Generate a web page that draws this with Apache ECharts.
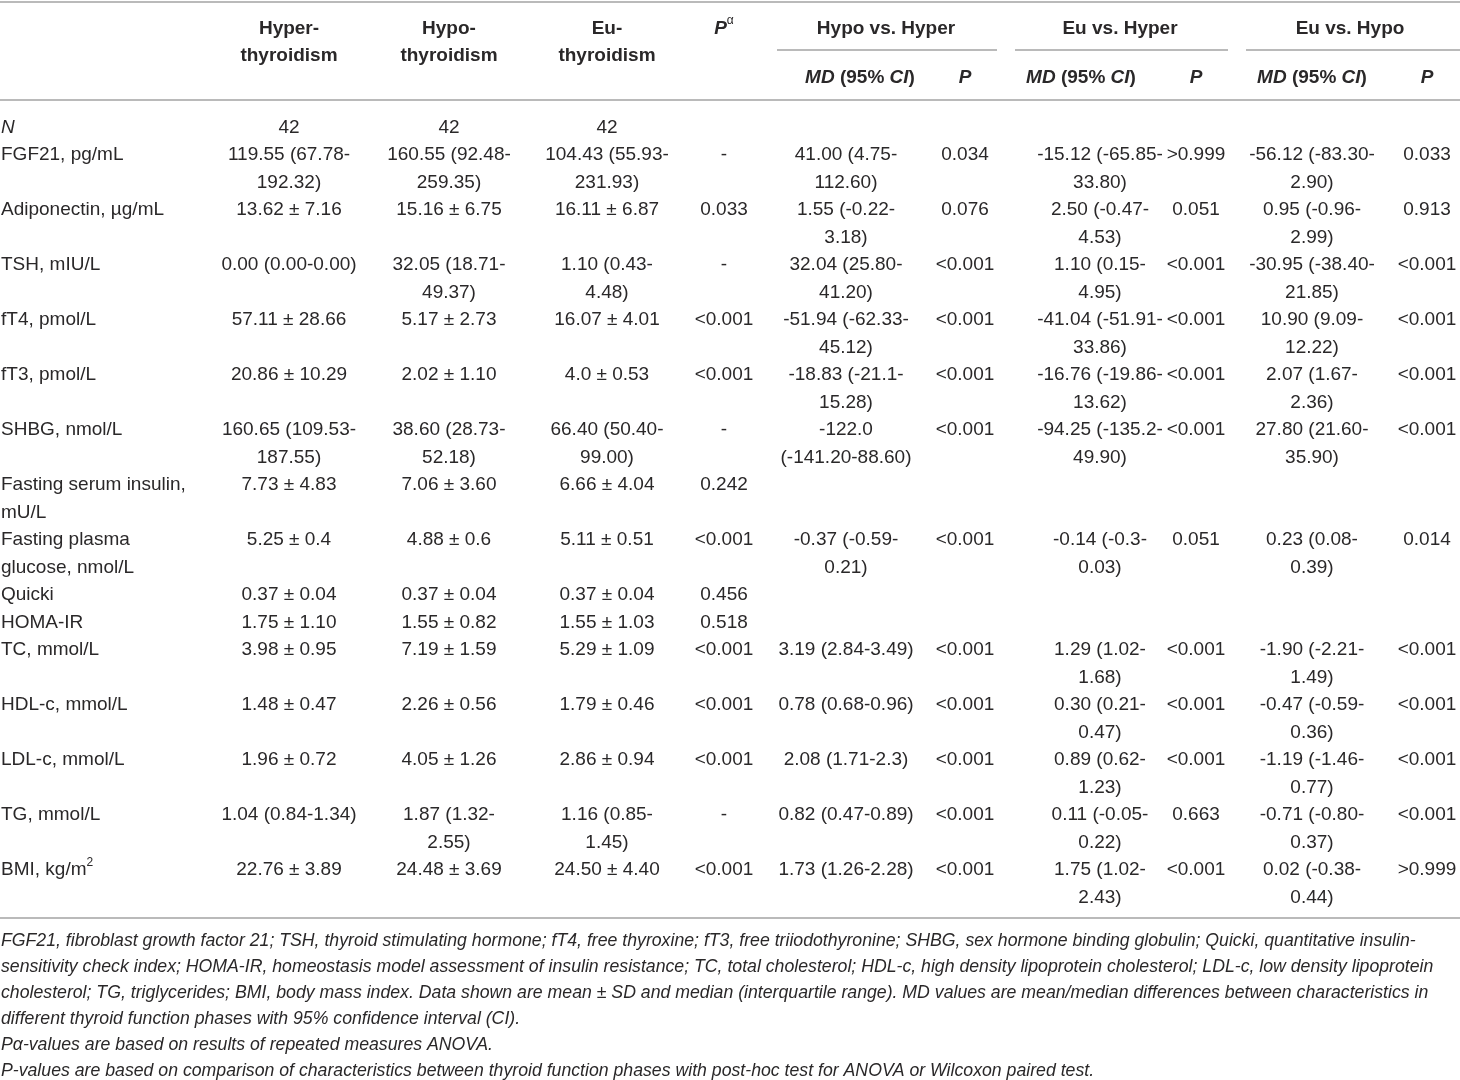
<!DOCTYPE html>
<html>
<head>
<meta charset="utf-8">
<script src="https://cdn.jsdelivr.net/npm/echarts@6/dist/echarts.min.js"></script>
<style>
html, body { margin: 0; padding: 0; background: #fff; }
#table { width: 1460px; height: 1080px; }
</style>
</head>
<body>
<div id="table"></div>
<script>
// table content
var rowLabels = [
    '{i|N}', 'FGF21, pg/mL', 'Adiponectin, \u00b5g/mL', 'TSH, mIU/L', 'fT4, pmol/L', 'fT3, pmol/L',
    'SHBG, nmol/L', 'Fasting serum insulin,\nmU/L', 'Fasting plasma\nglucose, nmol/L', 'Quicki',
    'HOMA-IR', 'TC, mmol/L', 'HDL-c, mmol/L', 'LDL-c, mmol/L', 'TG, mmol/L', 'BMI, kg/m{sup|2}'
];
var hyper = [
    '42', '119.55 (67.78-\n192.32)', '13.62 \u00b1 7.16', '0.00 (0.00-0.00)', '57.11 \u00b1 28.66', '20.86 \u00b1 10.29',
    '160.65 (109.53-\n187.55)', '7.73 \u00b1 4.83', '5.25 \u00b1 0.4', '0.37 \u00b1 0.04',
    '1.75 \u00b1 1.10', '3.98 \u00b1 0.95', '1.48 \u00b1 0.47', '1.96 \u00b1 0.72', '1.04 (0.84-1.34)', '22.76 \u00b1 3.89'
];
var hypo = [
    '42', '160.55 (92.48-\n259.35)', '15.16 \u00b1 6.75', '32.05 (18.71-\n49.37)', '5.17 \u00b1 2.73', '2.02 \u00b1 1.10',
    '38.60 (28.73-\n52.18)', '7.06 \u00b1 3.60', '4.88 \u00b1 0.6', '0.37 \u00b1 0.04',
    '1.55 \u00b1 0.82', '7.19 \u00b1 1.59', '2.26 \u00b1 0.56', '4.05 \u00b1 1.26', '1.87 (1.32-\n2.55)', '24.48 \u00b1 3.69'
];
var eu = [
    '42', '104.43 (55.93-\n231.93)', '16.11 \u00b1 6.87', '1.10 (0.43-\n4.48)', '16.07 \u00b1 4.01', '4.0 \u00b1 0.53',
    '66.40 (50.40-\n99.00)', '6.66 \u00b1 4.04', '5.11 \u00b1 0.51', '0.37 \u00b1 0.04',
    '1.55 \u00b1 1.03', '5.29 \u00b1 1.09', '1.79 \u00b1 0.46', '2.86 \u00b1 0.94', '1.16 (0.85-\n1.45)', '24.50 \u00b1 4.40'
];
var pAlpha = [
    '', '-', '0.033', '-', '<0.001', '<0.001', '-', '0.242', '<0.001', '0.456',
    '0.518', '<0.001', '<0.001', '<0.001', '-', '<0.001'
];
var mdHypoHyper = [
    '', '41.00 (4.75-\n112.60)', '1.55 (-0.22-\n3.18)', '32.04 (25.80-\n41.20)', '-51.94 (-62.33-\n45.12)',
    '-18.83 (-21.1-\n15.28)', '-122.0\n(-141.20-88.60)', '', '-0.37 (-0.59-\n0.21)', '',
    '', '3.19 (2.84-3.49)', '0.78 (0.68-0.96)', '2.08 (1.71-2.3)', '0.82 (0.47-0.89)', '1.73 (1.26-2.28)'
];
var pHypoHyper = [
    '', '0.034', '0.076', '<0.001', '<0.001', '<0.001', '<0.001', '', '<0.001', '',
    '', '<0.001', '<0.001', '<0.001', '<0.001', '<0.001'
];
var mdEuHyper = [
    '', '-15.12 (-65.85-\n33.80)', '2.50 (-0.47-\n4.53)', '1.10 (0.15-\n4.95)', '-41.04 (-51.91-\n33.86)',
    '-16.76 (-19.86-\n13.62)', '-94.25 (-135.2-\n49.90)', '', '-0.14 (-0.3-\n0.03)', '',
    '', '1.29 (1.02-\n1.68)', '0.30 (0.21-\n0.47)', '0.89 (0.62-\n1.23)', '0.11 (-0.05-\n0.22)', '1.75 (1.02-\n2.43)'
];
var pEuHyper = [
    '', '>0.999', '0.051', '<0.001', '<0.001', '<0.001', '<0.001', '', '0.051', '',
    '', '<0.001', '<0.001', '<0.001', '0.663', '<0.001'
];
var mdEuHypo = [
    '', '-56.12 (-83.30-\n2.90)', '0.95 (-0.96-\n2.99)', '-30.95 (-38.40-\n21.85)', '10.90 (9.09-\n12.22)',
    '2.07 (1.67-\n2.36)', '27.80 (21.60-\n35.90)', '', '0.23 (0.08-\n0.39)', '',
    '', '-1.90 (-2.21-\n1.49)', '-0.47 (-0.59-\n0.36)', '-1.19 (-1.46-\n0.77)', '-0.71 (-0.80-\n0.37)', '0.02 (-0.38-\n0.44)'
];
var pEuHypo = [
    '', '0.033', '0.913', '<0.001', '<0.001', '<0.001', '<0.001', '', '0.014', '',
    '', '<0.001', '<0.001', '<0.001', '<0.001', '>0.999'
];
var groupHeaders = ['Hyper-\nthyroidism', 'Hypo-\nthyroidism', 'Eu-\nthyroidism', '{pi|P}{sup|\u03b1}'];
var compareHeaders = ['Hypo vs. Hyper', 'Eu vs. Hyper', 'Eu vs. Hypo'];
var subHeaders = ['{bi|MD} (95% {bi|CI})', '{bi|P}'];
var footnotes = [
    'FGF21, fibroblast growth factor 21; TSH, thyroid stimulating hormone; fT4, free thyroxine; fT3, free triiodothyronine; SHBG, sex hormone binding globulin; Quicki, quantitative insulin-',
    'sensitivity check index; HOMA-IR, homeostasis model assessment of insulin resistance; TC, total cholesterol; HDL-c, high density lipoprotein cholesterol; LDL-c, low density lipoprotein',
    'cholesterol; TG, triglycerides; BMI, body mass index. Data shown are mean \u00b1 SD and median (interquartile range). MD values are mean/median differences between characteristics in',
    'different thyroid function phases with 95% confidence interval (CI).',
    'P\u03b1-values are based on results of repeated measures ANOVA.',
    'P-values are based on comparison of characteristics between thyroid function phases with post-hoc test for ANOVA or Wilcoxon paired test.'
];

// layout
var columns = [rowLabels, hyper, hypo, eu, pAlpha, mdHypoHyper, pHypoHyper, mdEuHyper, pEuHyper, mdEuHypo, pEuHypo];
var colX = [1, 289, 449, 607, 724, 846, 965, 1100, 1196, 1312, 1427];
var groupX = [886, 1120, 1350];
var spans = [[777, 997], [1015, 1228], [1246, 1460]];
var mdHeadX = [860, 1081, 1312];
var headY = [27, 53, 76];
var bodyTop = 126, pitch = 27.5;
var footTop = 940, footPitch = 26;
var textColor = '#2a2829', ruleColor = '#a3a3a3';
var fontFamily = '"Liberation Sans", Arial, sans-serif';
var fontSize = 19;

var styles = {
    body:  { fontSize: fontSize, fontWeight: 'normal', fontStyle: 'normal', align: 'center' },
    label: { fontSize: fontSize, fontWeight: 'normal', fontStyle: 'normal', align: 'left' },
    head:  { fontSize: fontSize, fontWeight: 'bold', fontStyle: 'normal', align: 'center' },
    foot:  { fontSize: 17.7, fontWeight: 'normal', fontStyle: 'italic', align: 'left', lh: footPitch }
};
var rich = {
    i:   { fontFamily: fontFamily, fontSize: fontSize, fontStyle: 'italic', fill: textColor, lineHeight: pitch },
    bi:  { fontFamily: fontFamily, fontSize: fontSize, fontStyle: 'italic', fontWeight: 'bold', fill: textColor, lineHeight: pitch },
    pi:  { fontFamily: fontFamily, fontSize: fontSize, fontStyle: 'italic', fontWeight: 'bold', fill: textColor, lineHeight: pitch },
    sup: { fontFamily: fontFamily, fontSize: 12, fill: textColor, lineHeight: 14, verticalAlign: 'top' }
};

var cells = [];
function addCell(x, y, text, kind) {
    if (text !== '') cells.push({ value: [x, y], text: text, kind: kind });
}

// header
groupHeaders.forEach(function (t, i) { addCell(colX[i + 1], headY[0], t, 'head'); });
compareHeaders.forEach(function (t, i) { addCell(groupX[i], headY[0], t, 'head'); });
mdHeadX.forEach(function (x, i) {
    addCell(x, headY[2], subHeaders[0], 'head');
    addCell(colX[6 + i * 2], headY[2], subHeaders[1], 'head');
});

// body, each row as tall as its tallest cell
var y = bodyTop;
rowLabels.forEach(function (lab, r) {
    var lines = 1;
    columns.forEach(function (col, c) {
        var t = col[r];
        lines = Math.max(lines, t.split('\n').length);
        addCell(colX[c], y, t, c === 0 ? 'label' : 'body');
    });
    y += lines * pitch;
});

footnotes.forEach(function (t, i) { addCell(1, footTop + i * footPitch, t, 'foot'); });

var rules = [
    [0, 2, 1460], [0, 100, 1460], [0, 918, 1460]
].concat(spans.map(function (s) { return [s[0], 50, s[1]]; }));

var chart = echarts.init(document.getElementById('table'), null, { renderer: 'canvas' });
chart.setOption({
    animation: false,
    grid: { left: 0, right: 0, top: 0, bottom: 0 },
    xAxis: { type: 'value', min: 0, max: 1460, show: false },
    yAxis: { type: 'value', min: 0, max: 1080, inverse: true, show: false },
    series: [
        {
            type: 'custom',
            silent: true,
            data: rules,
            renderItem: function (params, api) {
                var a = api.coord([api.value(0), api.value(1)]);
                var b = api.coord([api.value(2), api.value(1)]);
                return {
                    type: 'line',
                    shape: { x1: a[0], y1: a[1], x2: b[0], y2: b[1] },
                    style: { stroke: ruleColor, lineWidth: 1.5 }
                };
            }
        },
        {
            type: 'custom',
            silent: true,
            data: cells,
            renderItem: function (params, api) {
                var cell = cells[params.dataIndex];
                var st = styles[cell.kind];
                var lh = st.lh || pitch;
                var p = api.coord([api.value(0), api.value(1)]);
                return {
                    type: 'text',
                    x: p[0],
                    y: p[1] - lh / 2 + 1.5,
                    style: {
                        text: cell.text,
                        fill: textColor,
                        fontFamily: fontFamily,
                        fontSize: st.fontSize,
                        fontWeight: st.fontWeight,
                        fontStyle: st.fontStyle,
                        align: st.align,
                        verticalAlign: 'top',
                        lineHeight: lh,
                        rich: rich
                    }
                };
            }
        }
    ]
});
</script>
</body>
</html>
